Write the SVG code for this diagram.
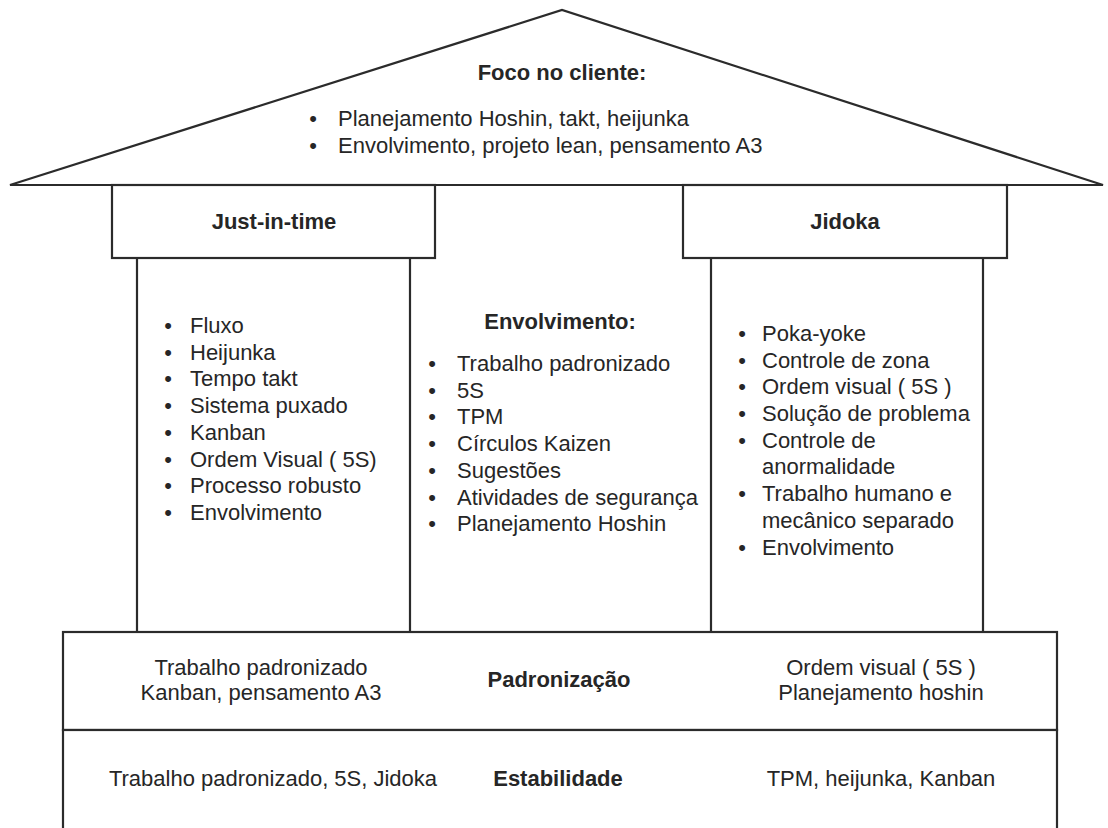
<svg xmlns="http://www.w3.org/2000/svg" width="1108" height="828" viewBox="0 0 1108 828">
<style>
.ln{fill:none;stroke:#2b2b2b;stroke-width:2.2}
.box{fill:#fff;stroke:#2b2b2b;stroke-width:2.2}
text{font-family:"Liberation Sans",Arial,sans-serif;font-size:22px;fill:#262626}
.b{font-weight:bold}
.c{text-anchor:middle}
</style>
<rect x="0" y="0" width="1108" height="828" fill="#fff"/>
<g id="roof">
<polygon class="box" points="10,185 562,10 1103,185"/>
<text class="b c" x="562" y="80">Foco no cliente:</text>
<text class="c" x="313" y="126">•</text><text x="338" y="126">Planejamento Hoshin, takt, heijunka</text>
<text class="c" x="313" y="153">•</text><text x="338" y="153">Envolvimento, projeto lean, pensamento A3</text>
</g>
<g id="jit-header">
<rect class="box" x="112" y="185" width="323" height="73"/>
<text class="b c" x="274" y="229">Just-in-time</text>
</g>
<g id="jidoka-header">
<rect class="box" x="683" y="185" width="324" height="73"/>
<text class="b c" x="845" y="229">Jidoka</text>
</g>
<g id="connectors">
<line class="ln" x1="137" y1="258" x2="137" y2="632"/>
<line class="ln" x1="410" y1="258" x2="410" y2="632"/>
<line class="ln" x1="711" y1="258" x2="711" y2="632"/>
<line class="ln" x1="983" y1="258" x2="983" y2="632"/>
</g>
<g id="jit-pillar">
<text class="c" x="168" y="333">•</text><text x="190" y="333">Fluxo</text>
<text class="c" x="168" y="360">•</text><text x="190" y="360">Heijunka</text>
<text class="c" x="168" y="386">•</text><text x="190" y="386">Tempo takt</text>
<text class="c" x="168" y="413">•</text><text x="190" y="413">Sistema puxado</text>
<text class="c" x="168" y="440">•</text><text x="190" y="440">Kanban</text>
<text class="c" x="168" y="467">•</text><text x="190" y="467">Ordem Visual ( 5S)</text>
<text class="c" x="168" y="493">•</text><text x="190" y="493">Processo robusto</text>
<text class="c" x="168" y="520">•</text><text x="190" y="520">Envolvimento</text>
</g>
<g id="center-pillar">
<text class="b c" x="560" y="329">Envolvimento:</text>
<text class="c" x="432" y="371">•</text><text x="457" y="371">Trabalho padronizado</text>
<text class="c" x="432" y="398">•</text><text x="457" y="398">5S</text>
<text class="c" x="432" y="424">•</text><text x="457" y="424">TPM</text>
<text class="c" x="432" y="451">•</text><text x="457" y="451">Círculos Kaizen</text>
<text class="c" x="432" y="478">•</text><text x="457" y="478">Sugestões</text>
<text class="c" x="432" y="505">•</text><text x="457" y="505">Atividades de segurança</text>
<text class="c" x="432" y="531">•</text><text x="457" y="531">Planejamento Hoshin</text>
</g>
<g id="jidoka-pillar">
<text class="c" x="742" y="341">•</text><text x="762" y="341">Poka-yoke</text>
<text class="c" x="742" y="368">•</text><text x="762" y="368">Controle de zona</text>
<text class="c" x="742" y="394">•</text><text x="762" y="394">Ordem visual ( 5S )</text>
<text class="c" x="742" y="421">•</text><text x="762" y="421">Solução de problema</text>
<text class="c" x="742" y="448">•</text><text x="762" y="448">Controle de</text>
<text x="762" y="474">anormalidade</text>
<text class="c" x="742" y="501">•</text><text x="762" y="501">Trabalho humano e</text>
<text x="762" y="528">mecânico separado</text>
<text class="c" x="742" y="555">•</text><text x="762" y="555">Envolvimento</text>
</g>
<g id="padronizacao">
<rect class="box" x="63" y="632" width="994" height="98"/>
<text class="c" x="261" y="675">Trabalho padronizado</text>
<text class="c" x="261" y="700">Kanban, pensamento A3</text>
<text class="b c" x="559" y="687">Padronização</text>
<text class="c" x="881" y="675">Ordem visual ( 5S )</text>
<text class="c" x="881" y="700">Planejamento hoshin</text>
</g>
<g id="estabilidade">
<rect class="box" x="63" y="730" width="994" height="110"/>
<text class="c" x="273" y="786">Trabalho padronizado, 5S, Jidoka</text>
<text class="b c" x="558" y="786">Estabilidade</text>
<text class="c" x="881" y="786">TPM, heijunka, Kanban</text>
</g>
</svg>
